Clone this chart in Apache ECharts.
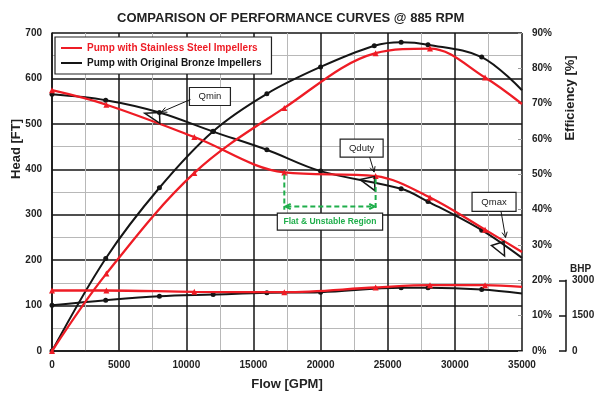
<!DOCTYPE html>
<html>
<head>
<meta charset="utf-8">
<script src="https://cdn.jsdelivr.net/npm/echarts@6/dist/echarts.min.js"></script>
<style>
html, body { margin: 0; padding: 0; background: #fff; }
#chart { width: 600px; height: 397px; }
</style>
</head>
<body>
<div id="chart"></div>
<script>
// flow in GPM, head in ft, efficiency in %, power in BHP
const bronzeFlow = [0, 4000, 8000, 12000, 16000, 20000, 26000, 28000, 32000, 35000]
const bronzeHead = [565, 552, 525, 483, 443, 396, 357, 329, 266, 205]
const bronzeBhp = [1944, 2157, 2326, 2398, 2470, 2496, 2683, 2683, 2611, 2441]
const bronzeEffFlow = [0, 4000, 8000, 12000, 16000, 20000, 24000, 26000, 28000, 32000, 35000]
const bronzeEff = [0, 26.2, 46.2, 62.2, 72.8, 80.4, 86.4, 87.4, 86.7, 83.2, 73.8]

const steelFlow = [0, 4050, 10600, 17300, 24100, 28150, 32250, 35000]
const steelHead = [574, 542, 471, 393, 385, 338, 267, 218]
const steelEff = [0, 21.9, 50.4, 68.8, 84.3, 85.6, 77.4, 69.9]
const steelBhp = [2568, 2568, 2513, 2496, 2696, 2793, 2793, 2725]

const STEEL = 'Pump with Stainless Steel Impellers'
const BRONZE = 'Pump with Original Bronze Impellers'

// callout anchors [flow, head]
const qMin = [8000, 525]
const qDuty = [24100, 385]
const qMax = [33700, 240]
const flatFrom = [17300, 393]
const flatTo = [24100, 385]
const flatArrowHead = 318
const flatBottomHead = 311

const RED = '#ee1c25'
const BLACK = '#151515'
const GREEN = '#1fae4b'
const font = "'Liberation Sans', Arial, sans-serif"

const GRID_TOP = 33
const GRID_H = 318

// the last point sits on the right border and has no marker
function points(xs, ys) {
  return xs.map((x, i) => i === xs.length - 1 ? { value: [x, ys[i]], symbol: 'none' } : [x, ys[i]])
}

function curve(name, color, yAxisIndex, xs, ys, symbol) {
  return {
    name: name,
    type: 'line',
    yAxisIndex: yAxisIndex,
    data: points(xs, ys),
    smooth: 0.35,
    symbol: symbol,
    symbolSize: symbol === 'triangle' ? 6 : 5,
    itemStyle: { color: color },
    lineStyle: { color: color, width: color === RED ? 2.3 : 2 },
    z: color === RED ? 4 : 3,
    animation: false
  }
}

const plain = (v) => String(v)
const labelStyle = { fontFamily: font, fontWeight: 'bold', fontSize: 10, color: '#222' }

const chart = echarts.init(document.getElementById('chart'))
chart.setOption({
  animation: false,
  title: {
    text: 'COMPARISON OF PERFORMANCE CURVES @ 885 RPM',
    left: 112,
    top: 7,
    textStyle: { fontFamily: font, fontWeight: 'bold', fontSize: 13, color: '#222' }
  },
  legend: {
    orient: 'vertical',
    left: 55,
    top: 37,
    padding: [5, 10, 5, 6],
    itemGap: 3,
    itemWidth: 21,
    itemHeight: 2,
    icon: 'rect',
    selectedMode: false,
    backgroundColor: '#fff',
    borderColor: '#222',
    borderWidth: 1.2,
    textStyle: { fontFamily: font, fontWeight: 'bold', fontSize: 10, lineHeight: 12 },
    data: [
      { name: STEEL, textStyle: { color: RED } },
      { name: BRONZE, textStyle: { color: BLACK } }
    ]
  },
  grid: [
    { left: 52, right: 78, top: GRID_TOP, height: GRID_H },
    { left: 566, width: 1, top: GRID_TOP + GRID_H * 70 / 90, height: GRID_H * 20 / 90 }
  ],
  xAxis: [
    {
      type: 'value',
      min: 0,
      max: 35000,
      interval: 5000,
      name: 'Flow [GPM]',
      nameLocation: 'middle',
      nameGap: 27,
      nameTextStyle: { fontFamily: font, fontWeight: 'bold', fontSize: 13, color: '#222' },
      axisLine: { lineStyle: { color: BLACK, width: 1.5 } },
      axisTick: { show: false },
      axisLabel: Object.assign({ margin: 9, formatter: plain }, labelStyle),
      splitLine: { lineStyle: { color: BLACK, width: 1.5 } },
      minorTick: { show: false, splitNumber: 2 },
      minorSplitLine: { show: true, lineStyle: { color: '#b8b8b8', width: 1 } }
    },
    { type: 'value', gridIndex: 1, show: false, min: 0, max: 1 }
  ],
  yAxis: [
    {
      type: 'value',
      min: 0,
      max: 700,
      interval: 100,
      axisLine: { show: true, lineStyle: { color: BLACK, width: 1.5 } },
      axisTick: { show: false },
      axisLabel: Object.assign({ margin: 10, formatter: plain }, labelStyle),
      splitLine: { lineStyle: { color: BLACK, width: 1.5 } },
      minorTick: { show: false, splitNumber: 2 },
      minorSplitLine: { show: true, lineStyle: { color: '#b8b8b8', width: 1 } }
    },
    {
      type: 'value',
      position: 'right',
      min: 0,
      max: 90,
      interval: 10,
      axisLine: { show: false },
      axisTick: { show: true, inside: true, length: 4, lineStyle: { color: '#999' } },
      axisLabel: Object.assign({ margin: 10, formatter: '{value}%' }, labelStyle),
      splitLine: { show: false }
    },
    // power is drawn against 0..20% of the efficiency scale
    { type: 'value', show: false, min: 0, max: 3000 * 90 / 20 },
    {
      type: 'value',
      gridIndex: 1,
      position: 'right',
      min: 0,
      max: 3000,
      interval: 1500,
      name: 'BHP',
      nameGap: 6,
      nameTextStyle: { fontFamily: font, fontWeight: 'bold', fontSize: 10, color: '#222', align: 'left', padding: [0, 0, 0, 4] },
      axisLine: { show: true, lineStyle: { color: BLACK, width: 1.5 } },
      axisTick: { show: true, inside: true, length: 7, lineStyle: { color: BLACK, width: 1.5 } },
      axisLabel: Object.assign({ margin: 5, formatter: plain }, labelStyle),
      splitLine: { show: false }
    }
  ],
  series: [
    curve(BRONZE, BLACK, 0, bronzeFlow, bronzeHead, 'circle'),
    curve(BRONZE, BLACK, 1, bronzeEffFlow, bronzeEff, 'circle'),
    curve(BRONZE, BLACK, 2, bronzeFlow, bronzeBhp, 'circle'),
    curve(STEEL, RED, 0, steelFlow, steelHead, 'triangle'),
    curve(STEEL, RED, 1, steelFlow, steelEff, 'triangle'),
    curve(STEEL, RED, 2, steelFlow, steelBhp, 'triangle')
  ]
})

// ---- callouts, placed from the data anchors ----
const px = (v) => chart.convertToPixel({ seriesIndex: 0 }, v)

function line(p1, p2, color, width, dash) {
  return {
    type: 'line',
    z: 100,
    shape: { x1: p1[0], y1: p1[1], x2: p2[0], y2: p2[1] },
    style: { stroke: color, lineWidth: width, lineDash: dash || null }
  }
}

function arrowHead(from, to, color, width, size) {
  const a = Math.atan2(to[1] - from[1], to[0] - from[0])
  const w1 = [to[0] - size * Math.cos(a - 0.45), to[1] - size * Math.sin(a - 0.45)]
  const w2 = [to[0] - size * Math.cos(a + 0.45), to[1] - size * Math.sin(a + 0.45)]
  return {
    type: 'polyline',
    z: 100,
    shape: { points: [w1, to, w2] },
    style: { stroke: color, lineWidth: width, fill: null }
  }
}

function box(x, y, w, h, text, color, weight, size) {
  return [
    { type: 'rect', z: 100, shape: { x: x, y: y, width: w, height: h }, style: { fill: '#fff', stroke: '#222', lineWidth: 1.2 } },
    {
      type: 'text', z: 101, x: x + w / 2, y: y + h / 2,
      style: { text: text, fill: color, font: weight + ' ' + size + 'px ' + font, align: 'center', verticalAlign: 'middle' }
    }
  ]
}

function callout(anchor, label, bx, by, bw, bh, from, to, flag) {
  const a = px(anchor)
  const p = (o) => [a[0] + o[0], a[1] + o[1]]
  const s = p(from), t = p(to)
  return box(a[0] + bx, a[1] + by, bw, bh, label, '#222', 'normal', 9.5)
    .concat([
      line(s, t, BLACK, 1),
      arrowHead(s, t, BLACK, 1, 6),
      { type: 'polygon', z: 100, shape: { points: flag.map(p) }, style: { fill: null, stroke: BLACK, lineWidth: 1.5 } }
    ])
}

const f1 = px(flatFrom), f2 = px(flatTo)
const fy = px([0, flatArrowHead])[1]
const fb = px([0, flatBottomHead])[1]
const dash = [5, 3]

const graphics = []
  .concat(callout(qMin, 'Qmin', 30, -25, 41, 18, [31, -13], [2, -0.5], [[-14.5, 0.8], [0, 0], [0.5, 10.8]]))
  .concat(callout(qDuty, 'Qduty', -35.5, -37, 43, 18, [-6, -19], [-1.5, -4], [[-15.5, 3.5], [-1.2, 0.5], [-0.7, 14.5]]))
  .concat(callout(qMax, 'Qmax', -32.5, -49.5, 44, 19, [-3.5, -30.5], [1, -4.5], [[-13, 3.6], [-0.5, -0.4], [0, 14]]))
  .concat([
    line([f1[0], f1[1] + 2], [f1[0], fb], GREEN, 2, dash),
    line([f2[0], f2[1] + 3], [f2[0], fb], GREEN, 2, dash),
    line([f1[0] + 2, fy], [f2[0] - 2, fy], GREEN, 2, dash),
    arrowHead([f2[0], fy], [f1[0] + 1, fy], GREEN, 2, 6),
    arrowHead([f1[0], fy], [f2[0] - 1, fy], GREEN, 2, 6)
  ])
  .concat(box(f1[0] - 7, fy + 6.5, f2[0] - f1[0] + 14, 17, 'Flat & Unstable Region', GREEN, 'bold', 8.5))
  .concat([
    {
      type: 'text', z: 101, x: 16, y: 149, rotation: Math.PI / 2,
      style: { text: 'Head [FT]', fill: '#222', font: 'bold 13px ' + font, align: 'center', verticalAlign: 'middle' }
    },
    {
      type: 'text', z: 101, x: 570, y: 98, rotation: Math.PI / 2,
      style: { text: 'Efficiency [%]', fill: '#222', font: 'bold 13px ' + font, align: 'center', verticalAlign: 'middle' }
    }
  ])

chart.setOption({ graphic: graphics })
</script>
</body>
</html>
